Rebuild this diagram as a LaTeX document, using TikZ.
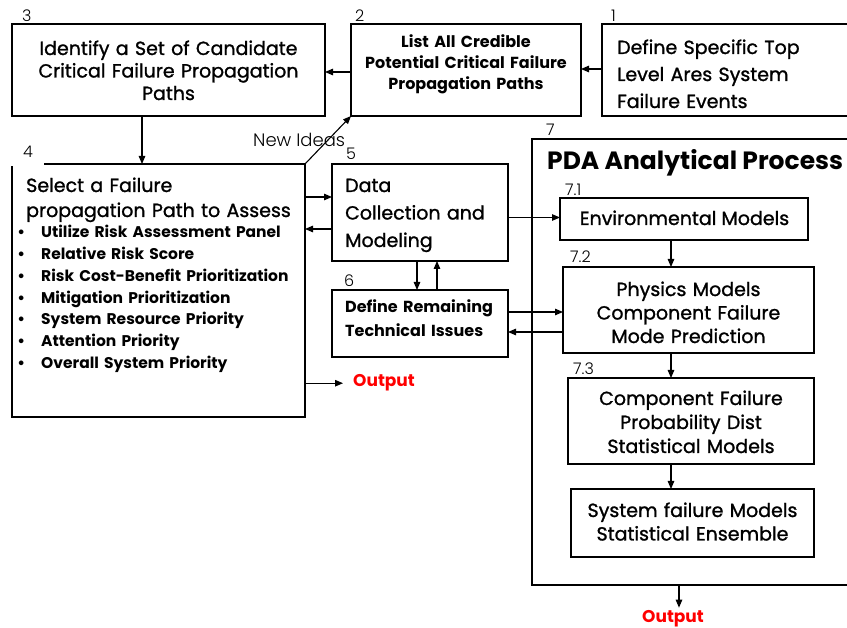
\documentclass[tikz,border=0pt]{standalone}
\usepackage{fontspec}
\setmainfont{Poppins}
\IfFontExistsTF{Poppins Light}{\newfontfamily\lightf{Poppins Light}}{\newfontfamily\lightf{Poppins}}
\newfontfamily\medf{Poppins}[FakeBold=1.2]
\usetikzlibrary{arrows.meta}
\definecolor{outred}{RGB}{255,0,0}
\hyphenpenalty=10000
\exhyphenpenalty=10000
\newcommand\bul{\leavevmode\llap{\makebox[40pt]{\textbullet}}}
\begin{document}
\begin{tikzpicture}[x=1pt,y=-1pt,
  frame/.style={inner sep=0pt, outer sep=0pt},
  boxline/.style={draw, line width=1.1pt},
  edge/.style={line width=1.1pt},
  arr/.style={-{Triangle[length=8pt,width=6.5pt]}, line width=1.1pt},
  num/.style={anchor=base west, inner sep=0pt, font=\lightf\fontsize{16}{16}\selectfont},
  ctxt/.style={inner sep=0pt, anchor=base, align=center},
  ltxt/.style={inner sep=0pt, anchor=base west, align=left},
  reg/.style={font=\medf\fontsize{19}{#1}\selectfont},
  bld/.style={font=\bfseries\fontsize{16}{#1}\selectfont},
  outtxt/.style={inner sep=0pt, anchor=base, text=outred, font=\bfseries\fontsize{17}{17}\selectfont}
]
\useasboundingbox (0,0) rectangle (847,628);

% box 3
\node[frame, boxline, minimum width=313pt, minimum height=92pt] (b3) at (168.5,70) {};
\node[ctxt, reg=22.5, text width=300pt] (t3) at (168.5,55) {Identify a Set of Candidate\\Critical Failure Propagation\\Paths};
% box 2
\node[frame, boxline, minimum width=230pt, minimum height=92pt] (b2) at (466,70) {};
\node[ctxt, bld=21, text width=225pt] (t2) at (466,48) {List All Credible\\Potential Critical Failure\\Propagation Paths};
% box 1
\node[frame, minimum width=245pt, minimum height=92pt] (b1) at (724.5,70) {};
\draw[edge] (b1.north east) -- (b1.north west) -- (b1.south west) -- (b1.south east);
\node[ltxt, reg=27, text width=225pt] (t1) at (617,54) {Define Specific Top\\Level Ares System\\Failure Events};
% box 4
\node[frame, minimum width=293pt, minimum height=253pt] (b4) at (158.5,290.5) {};
\draw[edge] ([xshift=32pt]b4.north west) -- (b4.north east) -- (b4.south east) -- (b4.south west) -- ([yshift=-2pt]b4.north west);
\node[ltxt, reg=25, text width=330pt] (t4) at (26,192) {Select a Failure\\propagation Path to Assess};
\node[ltxt, font=\bfseries\fontsize{15.5}{21.7}\selectfont, text width=300pt] (t4b) at (41,238) {\bul Utilize Risk Assessment Panel\\\bul Relative Risk Score\\\bul Risk Cost-Benefit Prioritization\\\bul Mitigation Prioritization\\\bul System Resource Priority\\\bul Attention Priority\\\bul Overall System Priority};
% box 5
\node[frame, boxline, minimum width=176pt, minimum height=97pt] (b5) at (420,212.5) {};
\node[ltxt, reg=27.5, text width=160pt] (t5) at (345,192) {Data\\Collection and\\Modeling};
% box 6
\node[frame, boxline, minimum width=176pt, minimum height=67pt] (b6) at (420,323.5) {};
\node[ltxt, bld=24, text width=160pt] (t6) at (345,313) {Define Remaining\\Technical Issues};
% box 7
\node[frame, minimum width=315pt, minimum height=446pt] (b7) at (689.5,362) {};
\draw[edge] (b7.north east) -- (b7.north west) -- (b7.south west) -- (b7.south east);
\node[anchor=base west, inner sep=0pt, font=\bfseries\fontsize{25}{25}\selectfont] (t7) at (547,170) {PDA Analytical Process};
\node[frame, boxline, minimum width=248pt, minimum height=42pt] (b71) at (684,219) {};
\node[ctxt, reg=24] (t71) at (684.5,225) {Environmental Models};
\node[frame, boxline, minimum width=251pt, minimum height=86pt] (b72) at (688.5,310) {};
\node[ctxt, reg=23.5, text width=240pt] (t72) at (688.5,296) {Physics Models\\Component Failure\\Mode Prediction};
\node[frame, boxline, minimum width=246pt, minimum height=86pt] (b73) at (691,421) {};
\node[ctxt, reg=24, text width=240pt] (t73) at (691,405) {Component Failure\\Probability Dist\\Statistical Models};
\node[frame, boxline, minimum width=243pt, minimum height=68pt] (b74) at (692.5,523) {};
\node[ctxt, reg=23.5, text width=240pt] (t74) at (692.5,517) {System failure Models\\Statistical Ensemble};

% number labels
\node[num] (n3) at (22,22) {3};
\node[num] (n2) at (355,22) {2};
\node[num] (n1) at (611,22) {1};
\node[num] (n4) at (23,158) {4};
\node[num] (n5) at (346,160) {5};
\node[num] (n6) at (344,287) {6};
\node[num] (n7) at (546,136) {7};
\node[num] (n71) at (565,196) {7.1};
\node[num] (n72) at (570,263) {7.2};
\node[num] (n73) at (573,375) {7.3};
\node[anchor=base west, inner sep=0pt, font=\lightf\fontsize{18}{18}\selectfont] (ni) at (253,147) {New Ideas};

% outputs
\node[outtxt, anchor=base west] (o1) at (353,387) {Output};
\node[outtxt] (o2) at (673,622) {Output};

% connectors
\draw[arr] ([yshift=1pt]b1.west) -- ([yshift=1pt]b2.east);
\draw[arr] ([yshift=-2pt]b2.west) -- ([yshift=-2pt]b3.east);
\draw[arr] ([xshift=-26.5pt]b3.south) -- ([xshift=-26.5pt]b3.south |- b4.north);
\draw[arr] (b4.north east) -- (b2.south west);
\coordinate (c45) at ([yshift=15.5pt]b5.west);
\draw[arr] (b4.east |- c45) -- (c45);
\coordinate (c54) at ([yshift=-16.5pt]b5.west);
\draw[arr] (c54) -- (b4.east |- c54);
\coordinate (c56) at ([xshift=-3pt]b5.south);
\draw[arr] (c56) -- (c56 |- b6.north);
\coordinate (c65) at ([xshift=17pt]b6.north);
\draw[arr] (c65) -- (c65 |- b5.south);
\coordinate (c571) at ([yshift=1.5pt]b71.west);
\draw[arr] (b5.east |- c571) -- (c571);
\coordinate (c7172) at ([xshift=-13pt]b71.south);
\draw[arr] (c7172) -- (c7172 |- b72.north);
\coordinate (c672) at ([yshift=-2pt]b72.west);
\draw[arr] (b6.east |- c672) -- (c672);
\coordinate (c726) at ([yshift=-22pt]b72.west);
\draw[arr] (c726) -- (b6.east |- c726);
\coordinate (c7273) at ([xshift=-17.5pt]b72.south);
\draw[arr] (c7273) -- (c7273 |- b73.north);
\coordinate (c7374) at ([xshift=-20pt]b73.south);
\draw[arr] (c7374) -- (c7374 |- b74.north);
\coordinate (c7o) at ([xshift=-10.5pt]b7.south);
\coordinate (o2top) at ([yshift=2pt]o2.north);
\draw[arr] (c7o) -- (c7o |- o2top);
\coordinate (o1tip) at ([xshift=-10pt]o1.west);
\draw[arr] (b4.east |- o1tip) -- (o1tip);
\end{tikzpicture}
\end{document}
